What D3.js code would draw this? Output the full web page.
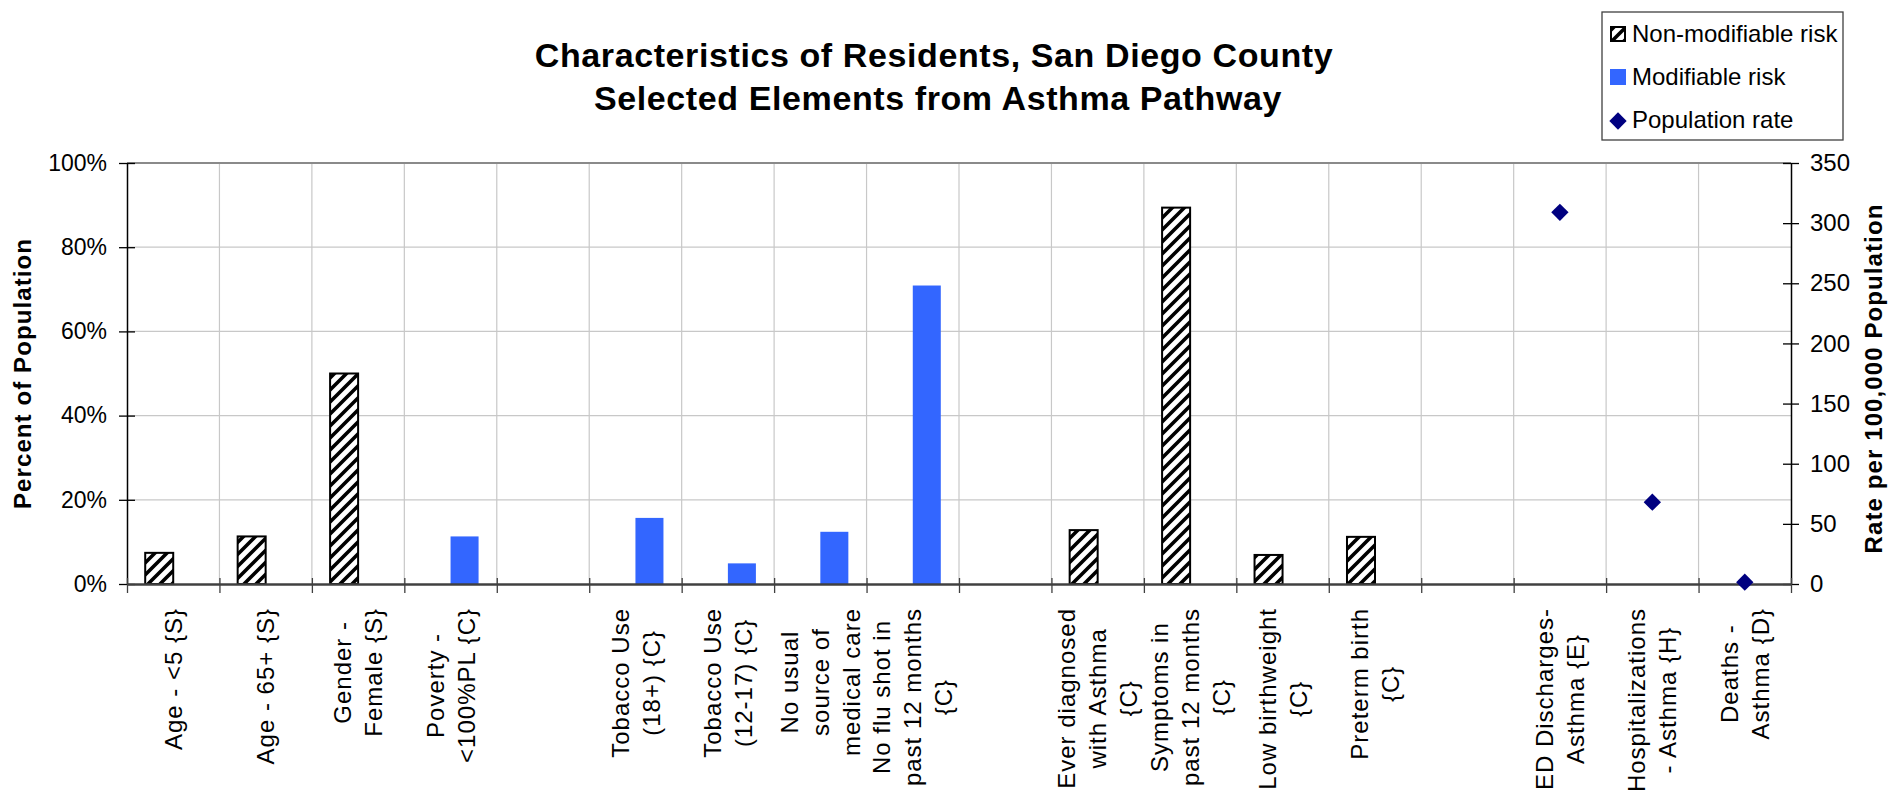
<!DOCTYPE html>
<html>
<head>
<meta charset="utf-8">
<script src="https://cdn.jsdelivr.net/npm/d3@7"></script>
<style>
  body { margin: 0; background: #fff; }
  text { font-family: "Liberation Sans", Arial, sans-serif; fill: #000; }
</style>
</head>
<body>
<div id="chart"></div>
<script>
// categories (line breaks are "\n"), empty strings are the spacer columns
const categories = [
  "Age - <5 {S}", "Age - 65+ {S}", "Gender -\nFemale {S}", "Poverty -\n<100%PL {C}", "",
  "Tobacco Use\n(18+) {C}", "Tobacco Use\n(12-17) {C}", "No usual\nsource of\nmedical care",
  "No flu shot in\npast 12 months\n{C}", "",
  "Ever diagnosed\nwith Asthma\n{C}", "Symptoms in\npast 12 months\n{C}", "Low birthweight\n{C}",
  "Preterm birth\n{C}", "",
  "ED Discharges-\nAsthma {E}", "Hospitalizations\n- Asthma {H}", "Deaths -\nAsthma {D}"
];

// percent of population
const nonModifiable = [7.4, 11.3, 50.0, null, null, null, null, null, null, null, 12.8, 89.4, 6.9, 11.2, null, null, null, null];
const modifiable    = [null, null, null, 11.3, null, 15.7, 4.9, 12.4, 70.9, null, null, null, null, null, null, null, null, null];
// rate per 100,000
const populationRate = [null, null, null, null, null, null, null, null, null, null, null, null, null, null, null, 309, 68, 1.5];

const leftTicks = [0, 20, 40, 60, 80, 100];
const rightTicks = [0, 50, 100, 150, 200, 250, 300, 350];
const seriesNames = ["Non-modifiable risk", "Modifiable risk", "Population rate"];

const width = 1891, height = 793,
  margin = ({ top: 163, right: 100, bottom: 209, left: 127 });

const idx = categories.map((d, i) => i);

const x0 = d3.scaleBand()
  .domain(idx)
  .range([margin.left, width - margin.right]);

const x1 = d3.scaleBand()
  .domain(["non", "mod"])
  .range([0, x0.bandwidth()])
  .paddingOuter(0.65);

const xEdge = d3.scaleLinear()
  .domain([0, categories.length])
  .range([margin.left, width - margin.right]);

const y = d3.scaleLinear()
  .domain([0, 100])
  .range([height - margin.bottom, margin.top]);

const y2 = d3.scaleLinear()
  .domain([0, 350])
  .range([height - margin.bottom, margin.top]);

const svg = d3.select("#chart")
  .append("svg")
  .attr("width", width)
  .attr("height", height)
  .attr("viewBox", [0, 0, width, height]);

svg.append("rect").attr("width", width).attr("height", height).attr("fill", "#fff");

// hatch pattern
const pat = svg.append("defs").append("pattern")
  .attr("id", "hatch")
  .attr("patternUnits", "userSpaceOnUse")
  .attr("width", 12)
  .attr("height", 12);
pat.append("rect").attr("width", 12).attr("height", 12).attr("fill", "#fff");
pat.append("path")
  .attr("d", "M-3,3 L3,-3 M0,12 L12,0 M9,15 L15,9")
  .attr("stroke", "#000")
  .attr("stroke-width", 3.6);

// grid
svg.append("g")
  .selectAll("line")
  .data(leftTicks.slice(1, -1))
  .join("line")
  .attr("x1", margin.left)
  .attr("x2", width - margin.right)
  .attr("y1", d => y(d))
  .attr("y2", d => y(d))
  .attr("stroke", "#c8c8c8")
  .attr("stroke-width", 1.2);

svg.append("g")
  .selectAll("line")
  .data(d3.range(1, categories.length))
  .join("line")
  .attr("x1", d => xEdge(d))
  .attr("x2", d => xEdge(d))
  .attr("y1", margin.top)
  .attr("y2", height - margin.bottom)
  .attr("stroke", "#c8c8c8")
  .attr("stroke-width", 1.2);

svg.append("line")
  .attr("x1", margin.left)
  .attr("x2", width - margin.right)
  .attr("y1", margin.top)
  .attr("y2", margin.top)
  .attr("stroke", "#8a8a8a")
  .attr("stroke-width", 2);

// bars
const bars = svg.append("g");

bars.selectAll("rect.non")
  .data(idx.filter(i => nonModifiable[i] != null))
  .join("rect")
  .attr("class", "non")
  .attr("x", i => x0(i) + x1("non"))
  .attr("y", i => y(nonModifiable[i]))
  .attr("width", x1.bandwidth())
  .attr("height", i => y(0) - y(nonModifiable[i]))
  .attr("fill", "url(#hatch)")
  .attr("stroke", "#000")
  .attr("stroke-width", 2);

bars.selectAll("rect.mod")
  .data(idx.filter(i => modifiable[i] != null))
  .join("rect")
  .attr("class", "mod")
  .attr("x", i => x0(i) + x1("mod"))
  .attr("y", i => y(modifiable[i]))
  .attr("width", x1.bandwidth())
  .attr("height", i => y(0) - y(modifiable[i]))
  .attr("fill", "#3366ff");

// axes
const gl = svg.append("g")
  .attr("transform", `translate(${margin.left},0)`)
  .call(d3.axisLeft(y).tickValues(leftTicks).tickFormat(d => d + "%").tickSize(8).tickPadding(12).tickSizeOuter(0));
gl.select(".domain").attr("stroke", "#000").attr("stroke-width", 1.5);
gl.selectAll(".tick line").attr("x1", 8).attr("stroke-width", 1.3);
gl.selectAll(".tick text").attr("font-size", 23).style("font-family", "Liberation Sans, Arial, sans-serif");

const gr = svg.append("g")
  .attr("transform", `translate(${width - margin.right},0)`)
  .call(d3.axisRight(y2).tickValues(rightTicks).tickSize(8).tickPadding(11).tickSizeOuter(0));
gr.select(".domain").attr("stroke", "#000").attr("stroke-width", 1.5);
gr.selectAll(".tick line").attr("x1", -8).attr("stroke-width", 1.3);
gr.selectAll(".tick text").attr("font-size", 24).style("font-family", "Liberation Sans, Arial, sans-serif");

const gb = svg.append("g")
  .attr("transform", `translate(0,${height - margin.bottom})`)
  .call(d3.axisBottom(xEdge).tickValues(d3.range(0, categories.length + 1)).tickFormat("").tickSize(9).tickSizeOuter(0));
gb.select(".domain").attr("stroke", "#404040").attr("stroke-width", 2.5);
gb.selectAll(".tick line").attr("y1", -6).attr("stroke", "#404040").attr("stroke-width", 1.3);

// diamonds
svg.append("g")
  .selectAll("path")
  .data(idx.filter(i => populationRate[i] != null))
  .join("path")
  .attr("d", d3.symbol(d3.symbolSquare, 150))
  .attr("transform", i => `translate(${x0(i) + x0.bandwidth() / 2},${y2(populationRate[i])}) rotate(45)`)
  .attr("fill", "#000080");

// category labels
const labelTop = height - margin.bottom + 24;
const lineGap = 31;
const lab = svg.append("g")
  .selectAll("g")
  .data(idx.filter(i => categories[i] !== ""))
  .join("g")
  .attr("transform", i => `translate(${x0(i) + x0.bandwidth() / 2},${labelTop}) rotate(-90)`);

lab.each(function (i) {
  const lines = categories[i].split("\n");
  const g = d3.select(this);
  const t = g.selectAll("text")
    .data(lines)
    .join("text")
    .attr("font-size", 24)
    .attr("letter-spacing", 1)
    .attr("text-anchor", "middle")
    .attr("y", (d, k) => (k - (lines.length - 1) / 2) * lineGap)
    .attr("dy", "0.36em")
    .text(d => d);
  const maxW = d3.max(t.nodes(), n => n.getComputedTextLength());
  t.attr("x", -maxW / 2);
});

// axis titles
svg.append("text")
  .attr("transform", `translate(22,${(y(0) + y(100)) / 2}) rotate(-90)`)
  .attr("text-anchor", "middle")
  .attr("dy", "0.36em")
  .attr("font-size", 24)
  .attr("font-weight", "bold")
  .attr("letter-spacing", 1.1)
  .text("Percent of Population");

svg.append("text")
  .attr("transform", `translate(1873,${(y(0) + y(100)) / 2 + 5}) rotate(-90)`)
  .attr("text-anchor", "middle")
  .attr("dy", "0.36em")
  .attr("font-size", 24)
  .attr("font-weight", "bold")
  .attr("letter-spacing", 1.1)
  .text("Rate per 100,000 Population");

// title
const title = svg.append("text")
  .attr("text-anchor", "middle")
  .attr("font-size", 34)
  .attr("font-weight", "bold")
  .attr("letter-spacing", 0.6);
title.append("tspan").attr("x", 934).attr("y", 67).text("Characteristics of Residents, San Diego County");
title.append("tspan").attr("x", 938).attr("y", 110).text("Selected Elements from Asthma Pathway");

// legend
const legend = svg.append("g");
legend.append("rect")
  .attr("x", 1602).attr("y", 12).attr("width", 241).attr("height", 128)
  .attr("fill", "#fff").attr("stroke", "#404040").attr("stroke-width", 1.3);

const rows = legend.selectAll("g.row")
  .data(seriesNames)
  .join("g")
  .attr("class", "row")
  .attr("transform", (d, k) => `translate(1611,${42 + k * 43})`);

rows.filter((d, k) => k === 0).append("rect")
  .attr("x", 0).attr("y", -15).attr("width", 14).attr("height", 14)
  .attr("fill", "url(#hatch)").attr("stroke", "#000").attr("stroke-width", 2);
rows.filter((d, k) => k === 1).append("rect")
  .attr("x", -1).attr("y", -16).attr("width", 16).attr("height", 16)
  .attr("fill", "#3366ff");
rows.filter((d, k) => k === 2).append("path")
  .attr("d", d3.symbol(d3.symbolSquare, 150))
  .attr("transform", "translate(7,-7) rotate(45)")
  .attr("fill", "#000080");

rows.append("text")
  .attr("x", 21)
  .attr("font-size", 24)
  .text(d => d);
</script>
</body>
</html>
